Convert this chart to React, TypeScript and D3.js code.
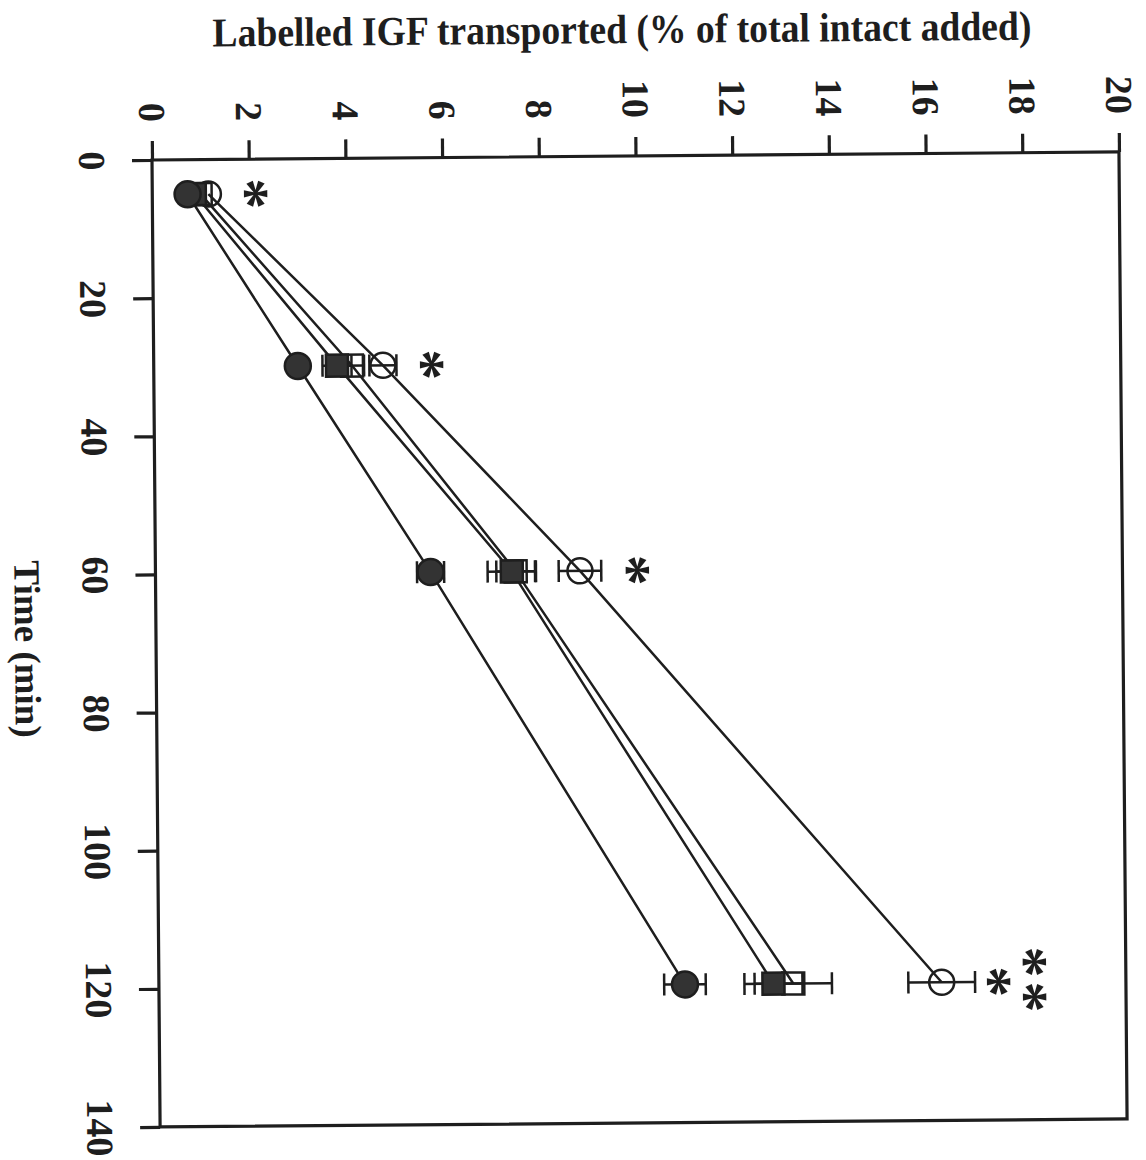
import React, { useEffect, useRef } from "react";
import * as d3 from "d3";

// time points (min)
const times = [5, 30, 60, 120];

// labelled IGF transported (% of total intact added), mean and SEM
const filledCircle = [0.73, 2.98, 5.69, 10.88];
const filledCircleSem = [0, 0, 0.28, 0.43];
const filledSquare = [0.88, 3.79, 7.37, 12.71];
const filledSquareSem = [0, 0.3, 0.5, 0.6];
const openSquare = [1.0, 4.1, 7.45, 13.12];
const openSquareSem = [0, 0.25, 0.4, 0.8];
const openCircle = [1.16, 4.74, 8.78, 16.19];
const openCircleSem = [0, 0.28, 0.44, 0.69];

const xTicks = [0, 2, 4, 6, 8, 10, 12, 14, 16, 18, 20];
const yTicks = [0, 20, 40, 60, 80, 100, 120, 140];

// significance marks
const stars = [
  { t: 5, v: 2.15, label: "*" },
  { t: 30, v: 5.76, label: "*" },
  { t: 60, v: 9.98, label: "*" },
  { t: 120, v: 17.38, label: "*" },
  { t: 120, v: 18.12, label: "**" },
];

const series = [
  { name: "openSquare", values: openSquare, sem: openSquareSem, shape: "square", filled: false },
  { name: "openCircle", values: openCircle, sem: openCircleSem, shape: "circle", filled: false },
  { name: "filledSquare", values: filledSquare, sem: filledSquareSem, shape: "square", filled: true },
  { name: "filledCircle", values: filledCircle, sem: filledCircleSem, shape: "circle", filled: true },
];

const ink = "#1e1e1e";
const fillInk = "#333";
const font = "'Liberation Serif', 'Times New Roman', serif";

const margin = { left: 152, top: 160 };
const innerW = 967;
const innerH = 967;
const skew = -0.48; // the scanned page sits slightly tilted

export default function App() {
  const xRef = useRef<SVGGElement>(null);
  const yRef = useRef<SVGGElement>(null);

  const x = d3.scaleLinear().domain([0, 20]).range([0, innerW]);
  const y = d3.scaleLinear().domain([0, 140]).range([0, innerH]);

  useEffect(() => {
    const gx = d3.select(xRef.current);
    gx.call(d3.axisTop(x).tickValues(xTicks).tickSize(19).tickSizeOuter(0).tickFormat(d3.format("d")));
    gx.select(".domain").remove();
    gx.attr("font-family", null).attr("font-size", null);
    gx.selectAll(".tick line").attr("stroke", ink).attr("stroke-width", 3.2);
    gx.selectAll(".tick text")
      .attr("x", 0)
      .attr("y", 0)
      .attr("dy", "0.34em")
      .attr("text-anchor", "end")
      .attr("transform", "translate(0,-38) rotate(90)")
      .attr("font-family", font)
      .attr("font-size", 38)
      .attr("font-weight", "bold")
      .attr("fill", ink);

    const gy = d3.select(yRef.current);
    gy.call(d3.axisLeft(y).tickValues(yTicks).tickSize(20).tickSizeOuter(0).tickFormat(d3.format("d")));
    gy.select(".domain").remove();
    gy.attr("font-family", null).attr("font-size", null);
    gy.selectAll(".tick line").attr("stroke", ink).attr("stroke-width", 3.2);
    gy.selectAll(".tick text")
      .attr("x", 0)
      .attr("y", 0)
      .attr("dy", "0.34em")
      .attr("text-anchor", "middle")
      .attr("transform", "translate(-60,0) rotate(90)")
      .attr("font-family", font)
      .attr("font-size", 38)
      .attr("font-weight", 600)
      .attr("fill", ink);
  }, []);

  const line = d3
    .line<number>()
    .x(d => x(d))
    .y((d, i) => y(times[i]));

  return (
    <svg width={1146} height={1160} style={{ position: "absolute", left: 0, top: 0, background: "#fff" }}>
      <g transform={`rotate(${skew} ${margin.left} ${margin.top})`}>
        <text
          x={623}
          y={47}
          textAnchor="middle"
          fontFamily={font}
          fontWeight="bold"
          fontSize={41}
          textLength={819}
          lengthAdjust="spacingAndGlyphs"
          fill={ink}
        >
          Labelled IGF transported (% of total intact added)
        </text>
        <text
          transform="translate(11,648) rotate(90)"
          textAnchor="middle"
          fontFamily={font}
          fontWeight="bold"
          fontSize={37}
          fill={ink}
        >
          Time (min)
        </text>
        <g transform={`translate(${margin.left},${margin.top})`}>
          <rect x={0} y={0} width={innerW} height={innerH} fill="none" stroke={ink} strokeWidth={3.2} />
          <g ref={xRef} />
          <g ref={yRef} />

          {/* connecting lines */}
          {series.map(s => (
            <path key={s.name + "-line"} d={line(s.values) || ""} fill="none" stroke={ink} strokeWidth={2.5} />
          ))}

          {/* error bars */}
          {series.map(s =>
            s.values.map((v, i) => {
              const e = s.sem[i];
              if (!e) return null;
              const cy = y(times[i]);
              const x0 = x(v - e);
              const x1 = x(v + e);
              return (
                <g key={s.name + "-err-" + i} stroke={ink} strokeWidth={2.5}>
                  <line x1={x0} x2={x1} y1={cy} y2={cy} />
                  <line x1={x0} x2={x0} y1={cy - 11} y2={cy + 11} />
                  <line x1={x1} x2={x1} y1={cy - 11} y2={cy + 11} />
                </g>
              );
            })
          )}

          {/* markers */}
          {series.map(s =>
            s.values.map((v, i) => {
              const cx = x(v);
              const cy = y(times[i]);
              const fill = s.filled ? fillInk : "none";
              return s.shape === "circle" ? (
                <circle
                  key={s.name + "-m-" + i}
                  cx={cx}
                  cy={cy}
                  r={s.filled ? 13 : 12.5}
                  fill={fill}
                  stroke={ink}
                  strokeWidth={2.5}
                />
              ) : (
                <rect
                  key={s.name + "-m-" + i}
                  x={cx - 11}
                  y={cy - 11}
                  width={22}
                  height={22}
                  fill={fill}
                  stroke={ink}
                  strokeWidth={2.5}
                />
              );
            })
          )}

          {/* asterisks */}
          {stars.map((s, i) => (
            <text
              key={"star-" + i}
              transform={`translate(${x(s.v)},${y(s.t)}) rotate(90)`}
              dy="0.48em"
              textAnchor="middle"
              fontFamily={font}
              fontWeight="bold"
              fontSize={62}
              letterSpacing={s.label.length > 1 ? 4 : 0}
              fill={ink}
            >
              {s.label}
            </text>
          ))}
        </g>
      </g>
    </svg>
  );
}
